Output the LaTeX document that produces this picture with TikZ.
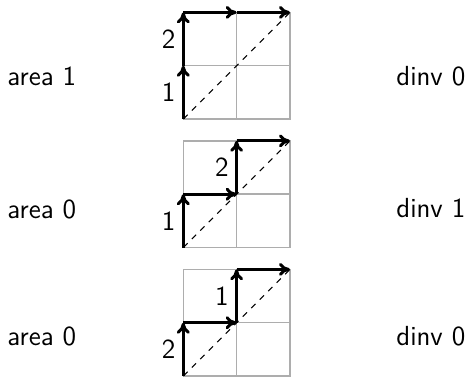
\documentclass[tikz,border=0pt]{standalone}
\usetikzlibrary{arrows.meta}
\renewcommand\familydefault{\sfdefault}
\begin{document}
\begin{tikzpicture}[x=0.5pt,y=-0.5pt,
  every node/.style={font=\fontsize{13.8}{16}\selectfont\sffamily, inner sep=0pt},
  gridline/.style={draw=black!32, line width=0.75pt},
  diag/.style={draw=black, line width=0.5pt, dash pattern=on 3pt off 3pt},
  stepline/.style={draw=black, line width=1.5pt, -{To[length=5.5pt,width=6.5pt]}},
  lab/.style={anchor=base west},
  num/.style={anchor=center, xshift=-7.3pt},
  cellgrid/.pic={
    \draw[gridline] (0,0) rectangle (2,2);
    \draw[gridline] (1,0) -- (1,2);
    \draw[gridline] (0,1) -- (2,1);
  },
]
\useasboundingbox (0,0) rectangle (470,376);

% ---------- grid 1 ----------
\begin{scope}[shift={(183.3,119)}, x=26.65pt, y=26.65pt]
  \pic {cellgrid};
  \coordinate (p00) at (0,0); \coordinate (p01) at (0,1); \coordinate (p02) at (0,2);
  \coordinate (p12) at (1,2); \coordinate (p22) at (2,2);
  \draw[diag] (p00) -- (p22);
  \draw[stepline] (p00) -- (p01);
  \draw[stepline] (p01) -- (p02);
  \draw[stepline] (p02) -- (p12);
  \draw[stepline] (p12) -- (p22);
  \node[num] (pl1) at (0,0.5) {1};
  \node[num] (pl2) at (0,1.5) {2};
\end{scope}
\node[lab] (area1) at (7,85.7) {area 1};
\node[lab] (dinv1) at (396,85) {dinv 0};

% ---------- grid 2 ----------
\begin{scope}[shift={(183.3,247.5)}, x=26.65pt, y=26.65pt]
  \pic {cellgrid};
  \coordinate (q00) at (0,0); \coordinate (q01) at (0,1); \coordinate (q11) at (1,1);
  \coordinate (q12) at (1,2); \coordinate (q22) at (2,2);
  \draw[diag] (q00) -- (q22);
  \draw[stepline] (q00) -- (q01);
  \draw[stepline] (q01) -- (q11);
  \draw[stepline] (q11) -- (q12);
  \draw[stepline] (q12) -- (q22);
  \node[num] (ql1) at (0,0.5) {1};
  \node[num] (ql2) at (1,1.5) {2};
\end{scope}
\node[lab] (area2) at (7,218.5) {area 0};
\node[lab] (dinv2) at (396,217.5) {dinv 1};

% ---------- grid 3 ----------
\begin{scope}[shift={(183.3,376)}, x=26.65pt, y=26.65pt]
  \pic {cellgrid};
  \coordinate (r00) at (0,0); \coordinate (r01) at (0,1); \coordinate (r11) at (1,1);
  \coordinate (r12) at (1,2); \coordinate (r22) at (2,2);
  \draw[diag] (r00) -- (r22);
  \draw[stepline] (r00) -- (r01);
  \draw[stepline] (r01) -- (r11);
  \draw[stepline] (r11) -- (r12);
  \draw[stepline] (r12) -- (r22);
  \node[num] (rl2) at (0,0.5) {2};
  \node[num] (rl1) at (1,1.5) {1};
\end{scope}
\node[lab] (area3) at (7,345) {area 0};
\node[lab] (dinv3) at (396,345) {dinv 0};
\end{tikzpicture}
\end{document}
